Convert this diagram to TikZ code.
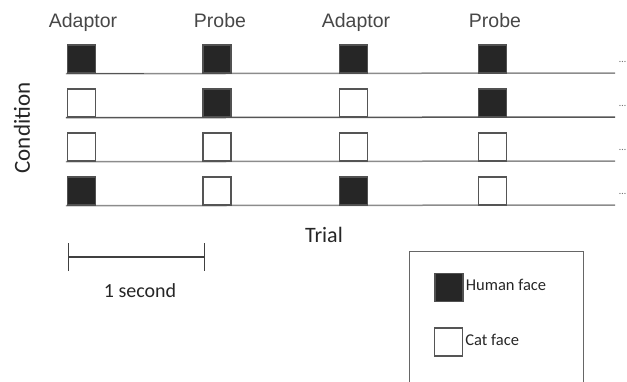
\documentclass[tikz,border=0pt]{standalone}
\usepackage{fontspec}
\setmainfont{Carlito}
\newfontfamily\headfont{Liberation Sans}
\usetikzlibrary{positioning, arrows.meta}
\definecolor{facedark}{HTML}{262626}
\definecolor{faceedge}{HTML}{555555}
\definecolor{trackgray}{HTML}{8C8C8C}

\tikzset{
	every face/.style={minimum size=28pt, inner sep=0pt, line width=1.4pt},
	face H/.style={fill=facedark, draw=facedark!80!white},
	face C/.style={fill=white, draw=faceedge},
	track/.style={line width=1.5pt, draw=trackgray},
	head/.style={font=\headfont\fontsize{19.5}{22}\selectfont, text=black!72, anchor=base},
}

\begin{document}
\begin{tikzpicture}[x=1pt, y=-1pt, >=stealth]

		\useasboundingbox (0,0) rectangle (627,381);

		% Column headings
		\foreach \lab [count=\i] in {Adaptor, Probe, Adaptor, Probe}
			\node [head] (head-\i) at ({\ifcase\i\or 83\or 220\or 356\or 495\fi}, 27) {\lab};

		% Trials (H = human face, C = cat face)
		\foreach \row [count=\r] in {{H,H,H,H}, {C,H,C,H}, {C,C,C,C}, {H,C,H,C}} {
			\foreach \f [count=\c] in \row
				\node [every face/.try, face \f/.try] (sq-\r-\c)
					at ({\ifcase\c\or 81.5\or 217\or 353.5\or 492.5\fi}, {15 + 44*\r}) {};
			\coordinate (end-\r) at (615, {29 + 44*\r});
			\node [text=black!60, anchor=west, inner sep=0pt] (dots-\r) at (619, {18 + 44*\r}) {\ldots};
		}

		% Time lines
		\foreach \r in {1, 3, 4}
			\draw [track] ([xshift=-1pt]sq-\r-1.south west) -- (end-\r);
		\draw [track, draw=faceedge] ([xshift=-1pt]sq-2-1.south west) -- (end-2);
		\draw [line width=1pt, draw=faceedge] (sq-1-1.south east) -- ++(48,0);

		% Redraw squares on top of the lines
		\foreach \row [count=\r] in {{H,H,H,H}, {C,H,C,H}, {C,C,C,C}, {H,C,H,C}}
			\foreach \f [count=\c] in \row
				\node [every face/.try, face \f/.try]
					at (sq-\r-\c) {};

		% Axis labels
		\node [rotate=90, font=\fontsize{23}{26}\selectfont, text=black!85] (cond) at (22,128) {Condition};
		\node [font=\fontsize{22}{24}\selectfont, text=black!85] (trial) at (324,235) {Trial};

		% Scale bar
		\coordinate (bar-l) at (68,257);
		\coordinate (bar-r) at (205,257);
		\draw [{Bar[width=28pt]}-{Bar[width=28pt]}, line width=1.2pt, draw=black!75] (bar-l) -- (bar-r);
		\node [font=\fontsize{20}{22}\selectfont, text=black!85] (sec) at (140,291) {1 second};

		% Legend
		\draw [line width=1pt, draw=black!60] (409,395) |- (583,251) -- (583,395);
		\node [every face/.try, face H/.try] (key-h) at (449,287.5) {};
		\node [every face/.try, face C/.try] (key-c) at (448.5,342) {};
		\node [anchor=west, font=\fontsize{16.5}{18}\selectfont, text=black!85, inner sep=2pt] (key-h-lab) at (key-h.east) [yshift=3pt] {Human face};
		\node [anchor=west, font=\fontsize{16.5}{18}\selectfont, text=black!85, inner sep=2pt] (key-c-lab) at (key-c.east) [yshift=2pt] {Cat face};

\end{tikzpicture}
\end{document}
